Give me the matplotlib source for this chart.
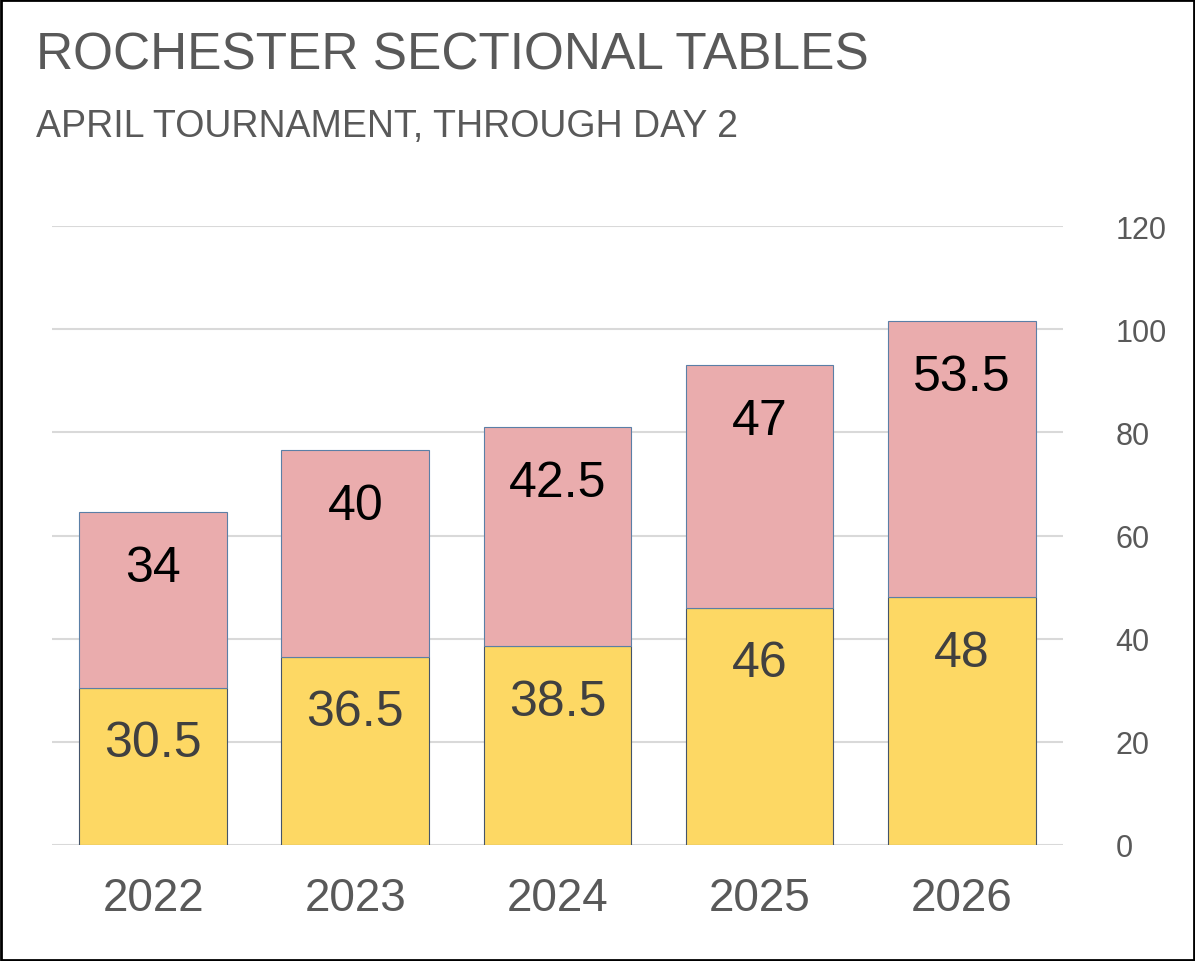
import matplotlib.pyplot as plt
import matplotlib.patches as mpatches

years = ["2022", "2023", "2024", "2025", "2026"]
bottom_vals = [30.5, 36.5, 38.5, 46, 48]
top_vals = [34, 40, 42.5, 47, 53.5]

plt.rcParams['font.family'] = ['Liberation Sans', 'DejaVu Sans']

fig = plt.figure(figsize=(11.95, 9.62), dpi=100)
ax = fig.add_axes([0.0435, 0.1206, 0.846, 0.6434])

x = range(len(years))
ax.bar(x, bottom_vals, width=0.73, color='#fdd864', edgecolor='#44546a', linewidth=0.8, zorder=2)
ax.bar(x, top_vals, width=0.73, bottom=bottom_vals, color='#eaacad', edgecolor='#5b7fa6', linewidth=0.8, zorder=2)

# labels sit near the inside end of each segment
for i in x:
    ax.annotate(f"{bottom_vals[i]:g}", (i, bottom_vals[i]), xytext=(0, -40), textcoords='offset points',
                ha='center', va='center', fontsize=36, color='#404040')
    ax.annotate(f"{top_vals[i]:g}", (i, bottom_vals[i] + top_vals[i]), xytext=(0, -40), textcoords='offset points',
                ha='center', va='center', fontsize=36, color='black')

ax.set_xlim(-0.5, 4.5)
ax.set_ylim(0, 120)
ax.set_yticks(range(0, 121, 20))
ax.yaxis.tick_right()
ax.yaxis.grid(True, color='#d9d9d9', linewidth=1.5, zorder=0)
ax.set_axisbelow(True)
ax.tick_params(axis='y', length=0, labelsize=22, labelcolor='#595959', pad=38)
ax.set_xticks(list(x))
ax.set_xticklabels(years)
ax.tick_params(axis='x', length=0, labelsize=33, labelcolor='#595959', pad=22)
for s in ax.spines.values():
    s.set_visible(False)

fig.text(0.03, 0.942, "ROCHESTER SECTIONAL TABLES", fontsize=37, color='#595959', va='center')
fig.text(0.03, 0.868, "APRIL TOURNAMENT, THROUGH DAY 2", fontsize=27, color='#595959', va='center')

fig.patches.append(mpatches.Rectangle((0.001, 0.001), 0.998, 0.998, transform=fig.transFigure,
                                      fill=False, edgecolor='black', linewidth=2))

fig.savefig("out.png", dpi=100)
